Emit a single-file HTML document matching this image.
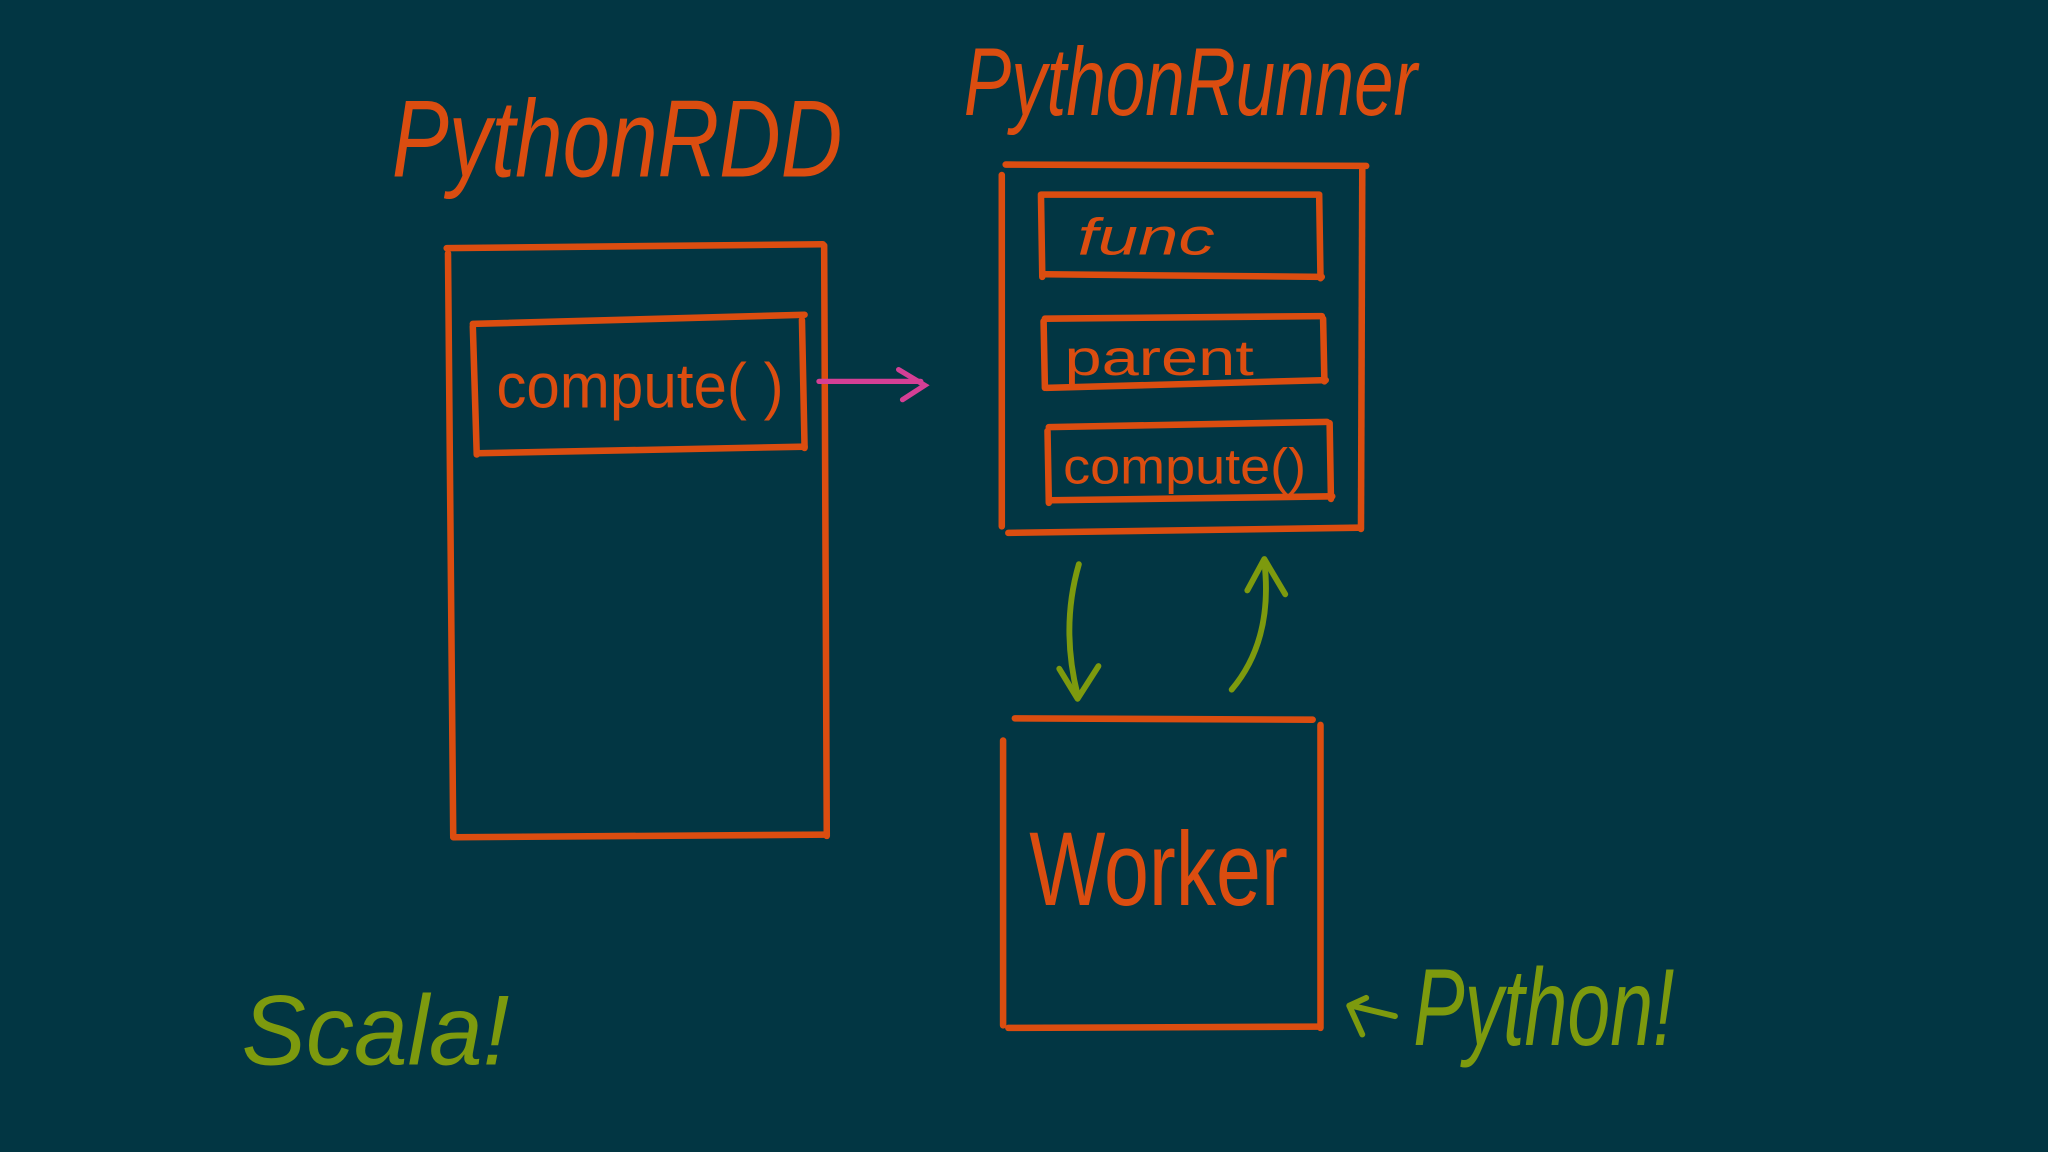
<!DOCTYPE html>
<html><head><meta charset="utf-8"><style>
html,body{margin:0;padding:0;background:#023643;}
svg{display:block}
text{font-family:"Liberation Sans",sans-serif;font-style:italic;}
</style></head><body>
<svg width="2048" height="1152" viewBox="0 0 1568 882" xmlns="http://www.w3.org/2000/svg">
<rect width="1568" height="882" fill="#023643"/>
<g stroke="#db4d10" stroke-width="5" stroke-linecap="round" fill="none">
<!-- PythonRDD box -->
<path d="M342 190 L630 187"/>
<path d="M343 194 L347 640"/>
<path d="M631 188 L633 640"/>
<path d="M347 641 L633 639"/>
<!-- inner compute -->
<path d="M362 248 L616 241"/>
<path d="M362 250 L365 348"/>
<path d="M614 245 L616 343"/>
<path d="M366 347 L616 342"/>
<!-- Runner box -->
<path d="M770 126 L1046 127"/>
<path d="M767 134 L767 403"/>
<path d="M1043 129 L1042 405"/>
<path d="M772 408 L1040 404"/>
<!-- func -->
<path d="M797 149 L1010 149"/>
<path d="M797 150 L798 212"/>
<path d="M1010 150 L1011 213"/>
<path d="M800 210 L1012 212"/>
<!-- parent -->
<path d="M800 244 L1012 242"/>
<path d="M799 246 L800 297"/>
<path d="M1013 244 L1014 292"/>
<path d="M801 297 L1015 291"/>
<!-- compute small -->
<path d="M803 327 L1016 323"/>
<path d="M802 330 L803 385"/>
<path d="M1018 324 L1019 382"/>
<path d="M805 383 L1020 380"/>
<!-- worker -->
<path d="M777 550 L1005 551"/>
<path d="M768 567 L768 785"/>
<path d="M1011 555 L1011 787"/>
<path d="M772 787 L1010 786"/>
</g>
<g fill="#db4d10">
<text x="300" y="135" font-size="84" textLength="345" lengthAdjust="spacingAndGlyphs">PythonRDD</text>
<text x="738" y="88" font-size="74" textLength="347" lengthAdjust="spacingAndGlyphs">PythonRunner</text>
<text x="380" y="312" font-size="48" font-style="normal" textLength="220" lengthAdjust="spacingAndGlyphs" style="font-style:normal">compute( )</text>
<text x="825" y="195" font-size="40" textLength="105" lengthAdjust="spacingAndGlyphs">func</text>
<text x="815" y="287" font-size="38" textLength="145" lengthAdjust="spacingAndGlyphs" style="font-style:normal">parent</text>
<text x="814" y="370" font-size="38" textLength="186" lengthAdjust="spacingAndGlyphs" style="font-style:normal">compute()</text>
<text x="788" y="693" font-size="80" textLength="198" lengthAdjust="spacingAndGlyphs" style="font-style:normal">Worker</text>
</g>
<g stroke="#d53f95" stroke-width="4" stroke-linecap="round" fill="none">
<path d="M627 292 L705 292"/>
<path d="M688 283 L708 295 L691 306"/>
</g>
<g stroke="#7d9a0e" stroke-width="4.5" stroke-linecap="round" stroke-linejoin="round" fill="none">
<path d="M826 432 Q812 480 825 532"/>
<path d="M811 512 L825 535 L841 510"/>
<path d="M943 528 Q975 490 968 430"/>
<path d="M955 452 L968 428 L984 455"/>
<path d="M1068 778 L1035 770"/>
<path d="M1046 764 L1033 770 L1043 792"/>
</g>
<g fill="#7d9a0e">
<text x="1082" y="800" font-size="84" textLength="200" lengthAdjust="spacingAndGlyphs">Python!</text>
<text x="185" y="815" font-size="76" textLength="205" lengthAdjust="spacingAndGlyphs">Scala!</text>
</g>
</svg>
</body></html>
